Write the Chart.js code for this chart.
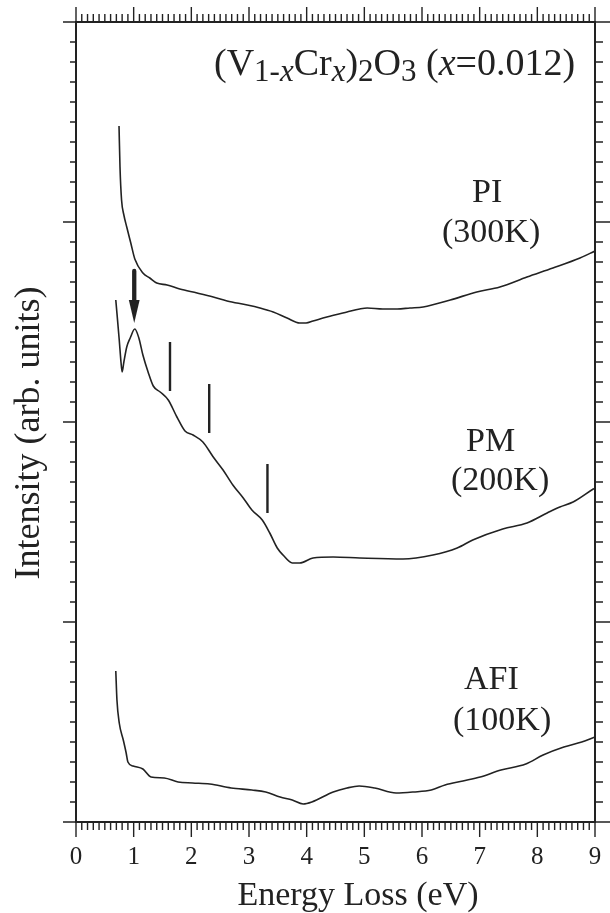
<!DOCTYPE html>
<html>
<head>
<meta charset="utf-8">
<script src="https://cdn.jsdelivr.net/npm/chart.js@4.4.1/dist/chart.umd.min.js"></script>
<style>
html,body{margin:0;padding:0;background:#fff;}
canvas{display:block;}
</style>
</head>
<body>
<canvas id="c" width="610" height="913"></canvas>
<script>
// ---------- data (Energy loss in eV, intensity in arb. units) ----------
const piE = [0.746,0.763,0.79,0.83,0.88,0.95,1.02,1.16,1.28,1.40,1.58,1.80,2.10,2.38,2.62,2.97,3.19,3.42,3.66,3.88,3.99,4.11,4.35,4.70,4.92,5.05,5.32,5.57,5.79,6.02,6.49,6.95,7.35,7.82,8.27,8.74,9.00];
const piI = [3.48,3.275,3.11,3.035,2.975,2.895,2.815,2.745,2.72,2.695,2.685,2.665,2.645,2.625,2.605,2.585,2.57,2.55,2.52,2.495,2.495,2.505,2.525,2.55,2.565,2.57,2.565,2.565,2.57,2.575,2.61,2.65,2.675,2.725,2.77,2.82,2.855];

const pmE = [0.69,0.75,0.78,0.80,0.83,0.88,0.94,1.02,1.09,1.16,1.25,1.34,1.46,1.60,1.75,1.89,2.03,2.20,2.38,2.55,2.72,2.90,3.05,3.23,3.36,3.49,3.59,3.75,3.88,4.11,4.46,4.92,5.67,6.19,6.61,6.88,7.40,7.82,8.17,8.39,8.62,8.97,9.00];
const pmI = [2.61,2.41,2.30,2.25,2.30,2.375,2.42,2.465,2.42,2.335,2.25,2.18,2.15,2.11,2.025,1.955,1.935,1.90,1.825,1.76,1.685,1.62,1.56,1.51,1.445,1.37,1.335,1.295,1.295,1.32,1.325,1.32,1.315,1.335,1.37,1.41,1.465,1.495,1.545,1.575,1.60,1.665,1.67];

const afiE = [0.69,0.71,0.75,0.82,0.87,0.90,0.99,1.16,1.30,1.53,1.77,2.02,2.32,2.69,3.05,3.29,3.54,3.75,3.94,4.09,4.46,4.70,4.91,5.18,5.55,5.85,6.16,6.40,6.71,7.01,7.37,7.80,8.10,8.46,8.77,9.00];
const afiI = [0.755,0.61,0.495,0.41,0.345,0.30,0.28,0.265,0.225,0.22,0.20,0.195,0.19,0.17,0.16,0.15,0.125,0.11,0.09,0.10,0.15,0.17,0.18,0.17,0.145,0.15,0.16,0.185,0.205,0.225,0.26,0.29,0.335,0.375,0.40,0.425];

// vertical bars marking features on the PM spectrum
const markerE = [1.63, 2.31, 3.32];
const markerTop = [2.40, 2.19, 1.79];
const markerBottom = [2.155, 1.945, 1.545];

// arrow pointing at the PM peak
const arrowE = [1.01];
const arrowFrom = [2.76];
const arrowTo = [2.495];

// axes
const xTickLabels = ['0','1','2','3','4','5','6','7','8','9'];
const xMin = 0, xMax = 9, yMin = 0, yMax = 4;

const curveLabels = [
  ['PI', 472, 202], ['(300K)', 442, 242],
  ['PM', 466, 451], ['(200K)', 451, 490],
  ['AFI', 464, 689], ['(100K)', 453, 730]
];

// ---------- build ----------
const toPts = (xs, ys) => xs.map((v, i) => ({x: v, y: ys[i]}));
const INK = '#222';
const SERIF = '"Liberation Serif", "Times New Roman", serif';

const curveStyle = {
  borderColor: INK, borderWidth: 1.6, pointRadius: 0, fill: false,
  cubicInterpolationMode: 'monotone', showLine: true
};

const datasets = [
  Object.assign({label: 'PI (300K)', data: toPts(piE, piI)}, curveStyle),
  Object.assign({label: 'PM (200K)', data: toPts(pmE, pmI)}, curveStyle),
  Object.assign({label: 'AFI (100K)', data: toPts(afiE, afiI)}, curveStyle)
];
markerE.forEach((e, i) => {
  datasets.push({
    label: 'marker' + i,
    data: [{x: e, y: markerTop[i]}, {x: e, y: markerBottom[i]}],
    borderColor: INK, borderWidth: 2.4, pointRadius: 0, showLine: true, tension: 0
  });
});

const decorPlugin = {
  id: 'decor',
  afterDraw(chart) {
    const {ctx, chartArea: a, scales} = chart;
    const x = scales.x, y = scales.y;
    ctx.save();
    // minor/major tick marks on all four sides
    ctx.strokeStyle = INK;
    ctx.lineWidth = 1.4;
    ctx.beginPath();
    for (let i = 0; i <= 90; i++) {
      const px = x.getPixelForValue(i / 10);
      const major = i % 10 === 0;
      ctx.moveTo(px, a.bottom); ctx.lineTo(px, a.bottom + (major ? 15 : 8));
      ctx.moveTo(px, a.top); ctx.lineTo(px, a.top - (major ? 15 : 8));
    }
    for (let i = 0; i <= 40; i++) {
      const py = y.getPixelForValue(i / 10);
      const major = i % 10 === 0;
      ctx.moveTo(a.left, py); ctx.lineTo(a.left - (major ? 13 : 6), py);
      ctx.moveTo(a.right, py); ctx.lineTo(a.right + (major ? 15 : 8), py);
    }
    ctx.stroke();

    // arrow
    arrowE.forEach((e, i) => {
      const ax = x.getPixelForValue(e);
      const y0 = y.getPixelForValue(arrowFrom[i]);
      const y1 = y.getPixelForValue(arrowTo[i]);
      const headLen = 23, headHalf = 5.4;
      ctx.lineWidth = 4.3;
      ctx.lineCap = 'round';
      ctx.beginPath();
      ctx.moveTo(ax, y0 + 1); ctx.lineTo(ax, y1 - headLen + 2);
      ctx.stroke();
      ctx.fillStyle = INK;
      ctx.beginPath();
      ctx.moveTo(ax - headHalf, y1 - headLen);
      ctx.lineTo(ax + headHalf, y1 - headLen);
      ctx.lineTo(ax, y1);
      ctx.closePath();
      ctx.fill();
    });

    // texts
    ctx.fillStyle = INK;
    ctx.textBaseline = 'alphabetic';
    ctx.textAlign = 'left';
    ctx.font = '34px ' + SERIF;
    curveLabels.forEach(([t, lx, ly]) => ctx.fillText(t, lx, ly));

    // x axis title
    ctx.textAlign = 'center';
    ctx.fillText('Energy Loss (eV)', 358, 905);

    // y axis title
    ctx.save();
    ctx.translate(39, 433);
    ctx.rotate(-Math.PI / 2);
    ctx.font = '36px ' + SERIF;
    ctx.fillText('Intensity (arb. units)', 0, 0);
    ctx.restore();

    // formula title
    const main = 38, sub = 31, shift = 6;
    const segs = [
      ['(V', main, false, 0], ['1-', sub, false, shift], ['x', sub, true, shift],
      ['Cr', main, false, 0], ['x', sub, true, shift], [')', main, false, 0],
      ['2', sub, false, shift], ['O', main, false, 0], ['3', sub, false, shift],
      [' (', main, false, 0], ['x', main, true, 0], ['=0.012)', main, false, 0]
    ];
    ctx.textAlign = 'left';
    let tx = 214;
    const ty = 75;
    segs.forEach(([t, s, it, dy]) => {
      ctx.font = (it ? 'italic ' : '') + s + 'px ' + SERIF;
      ctx.fillText(t, tx, ty + dy);
      tx += ctx.measureText(t).width;
    });
    ctx.restore();
  }
};

const hiddenTicks = {display: false};
new Chart(document.getElementById('c'), {
  type: 'line',
  data: {datasets},
  options: {
    responsive: false,
    animation: false,
    devicePixelRatio: 1,
    layout: {padding: 0},
    plugins: {legend: {display: false}, tooltip: {enabled: false}, title: {display: false}},
    scales: {
      x: {
        type: 'linear', position: 'bottom', min: xMin, max: xMax,
        afterFit(s) { s.height = 91; },
        grid: {display: true, drawOnChartArea: false, drawTicks: true, tickLength: 20, tickColor: 'rgba(0,0,0,0)'},
        border: {display: true, color: INK, width: 2},
        afterBuildTicks(s) { s.ticks = xTickLabels.map((t, i) => ({value: i})); },
        ticks: {
          callback: (v, i) => xTickLabels[i],
          color: INK, padding: 0, maxRotation: 0, autoSkip: false,
          font: {family: SERIF, size: 25}
        }
      },
      x2: {
        type: 'linear', position: 'top', min: xMin, max: xMax,
        afterFit(s) { s.height = 22; },
        grid: {display: false, drawTicks: false},
        border: {display: true, color: INK, width: 2},
        ticks: hiddenTicks
      },
      y: {
        type: 'linear', position: 'left', min: yMin, max: yMax,
        afterFit(s) { s.width = 76; },
        grid: {display: false, drawTicks: false},
        border: {display: true, color: INK, width: 2},
        ticks: hiddenTicks
      },
      y2: {
        type: 'linear', position: 'right', min: yMin, max: yMax,
        afterFit(s) { s.width = 15; },
        grid: {display: false, drawTicks: false},
        border: {display: true, color: INK, width: 2},
        ticks: hiddenTicks
      }
    }
  },
  plugins: [decorPlugin]
});
</script>
</body>
</html>
